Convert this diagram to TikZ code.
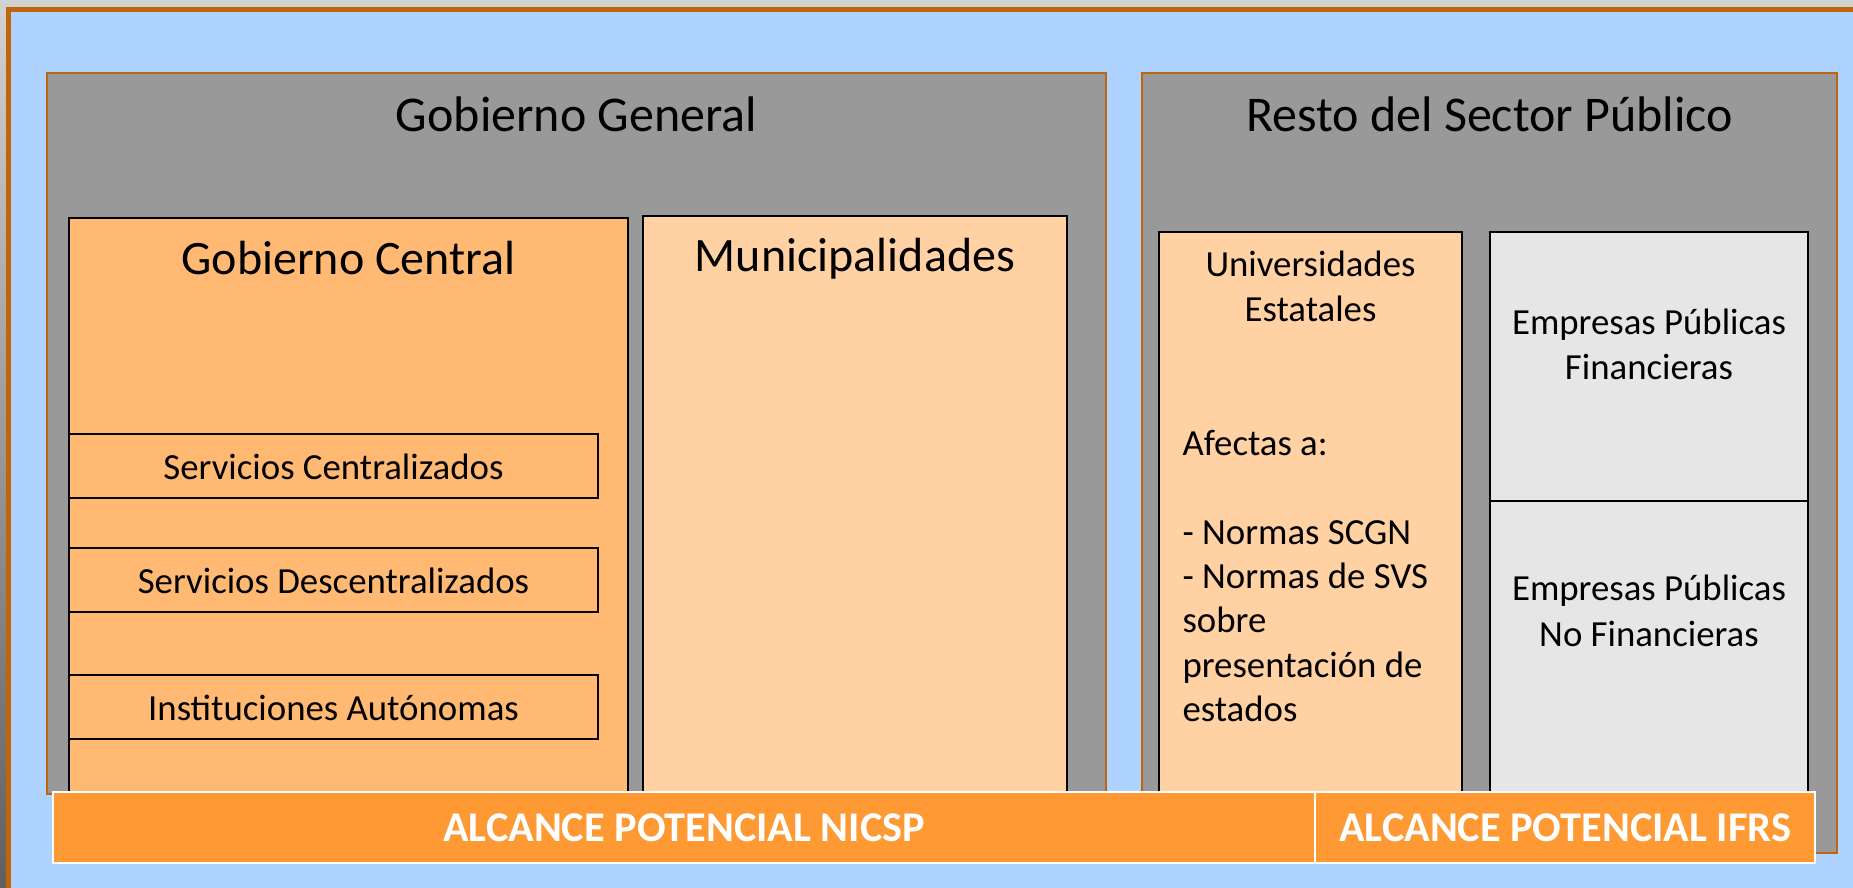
\documentclass[tikz,border=0pt]{standalone}
\usepackage{fontspec}
\setmainfont{Carlito}
\definecolor{framegray}{HTML}{D2D2D2}
\definecolor{shadowgray}{HTML}{606060}
\definecolor{skyback}{HTML}{AED3FF}
\definecolor{frameorange}{HTML}{C0650C}
\definecolor{sectorgray}{HTML}{999999}
\definecolor{centralorange}{HTML}{FFB973}
\definecolor{paleorange}{HTML}{FFD1A3}
\definecolor{firmgray}{HTML}{E6E6E6}
\definecolor{barorange}{HTML}{FF9933}

\begin{document}
\begin{tikzpicture}[x=1pt, y=-1pt,
        sectorbox/.style={fill=sectorgray, draw=frameorange, line width=2pt},
        entitybox/.style={draw=black, line width=1.5pt},
        scopebar/.style={fill=barorange, draw=white, line width=1.5pt},
        bigtitle/.style={anchor=base, font=\fontsize{50}{61}\selectfont},
        midtitle/.style={anchor=base, font=\fontsize{48}{58}\selectfont},
        smalltext/.style={anchor=base, font=\fontsize{36.8}{45}\selectfont},
        bartext/.style={anchor=base, text=white, font=\bfseries\fontsize{42.3}{51}\selectfont}]

            % page and frame
            \useasboundingbox (0,0) rectangle (1853,888);
            \fill[framegray] (0,0) rectangle (1853,888);
            \shade[top color=framegray, bottom color=shadowgray] (0,0) rectangle (7,888);
            \filldraw[fill=skyback, draw=frameorange, line width=5pt] (8.5,9.5) rectangle (1880,900);

            % sectors
            \filldraw[sectorbox] (47,73) rectangle (1106,794);
            \filldraw[sectorbox] (1142,73) rectangle (1837,853);

            % entities
            \filldraw[entitybox, fill=centralorange] (69,218) rectangle (628,863);
            \foreach \u in {434, 548, 675}
                {
                    \filldraw[entitybox, fill=centralorange] (69,\u) rectangle (598,\u+64);
                }
            \filldraw[entitybox, fill=paleorange] (643,216) rectangle (1067,863);
            \filldraw[entitybox, fill=paleorange] (1159,232) rectangle (1462,863);
            \filldraw[entitybox, fill=firmgray] (1490,232) rectangle (1808,501);
            \filldraw[entitybox, fill=firmgray] (1490,501) rectangle (1808,863);

            % scope bars
            \filldraw[scopebar] (53,792) rectangle (1315,863);
            \filldraw[scopebar] (1315,792) rectangle (1815,863);

            % titles
            \node[bigtitle] (gg-title) at (576.5,132) {Gobierno General};
            \node[bigtitle] (rsp-title) at (1489.5,132) {Resto del Sector Público};
            \node[midtitle] (gc-title) at (348.5,274) {Gobierno Central};
            \node[midtitle] (mun-title) at (855,271) {Municipalidades};

            % central services
            \node[smalltext] (sc-text) at (333.5,479) {Servicios Centralizados};
            \node[smalltext] (sd-text) at (333.5,593) {Servicios Descentralizados};
            \node[smalltext] (ia-text) at (333.5,720) {Instituciones Autónomas};

            % universities
            \foreach \v/\name/\line in {276/ue-a/Universidades, 321/ue-b/Estatales}
                {
                    \node[smalltext] (\name) at (1310.5,\v) {\line};
                }
            \foreach \v/\name/\line in {455/af-a/{Afectas a:}, 544/af-b/{- Normas SCGN},
                    588/af-c/{- Normas de SVS}, 632/af-d/sobre,
                    677/af-e/{presentación de}, 721/af-f/estados}
                {
                    \node[smalltext, anchor=base west] (\name) at (1179,\v) {\line};
                }

            % public companies
            \foreach \v/\name/\line in {334/epf-a/{Empresas Públicas}, 379/epf-b/Financieras,
                    600/epn-a/{Empresas Públicas}, 646/epn-b/{No Financieras}}
                {
                    \node[smalltext] (\name) at (1649,\v) {\line};
                }

            % scope labels
            \node[bartext] (nicsp) at (684,841) {ALCANCE POTENCIAL NICSP};
            \node[bartext] (ifrs) at (1565,841) {ALCANCE POTENCIAL IFRS};

        \end{tikzpicture}
\end{document}
